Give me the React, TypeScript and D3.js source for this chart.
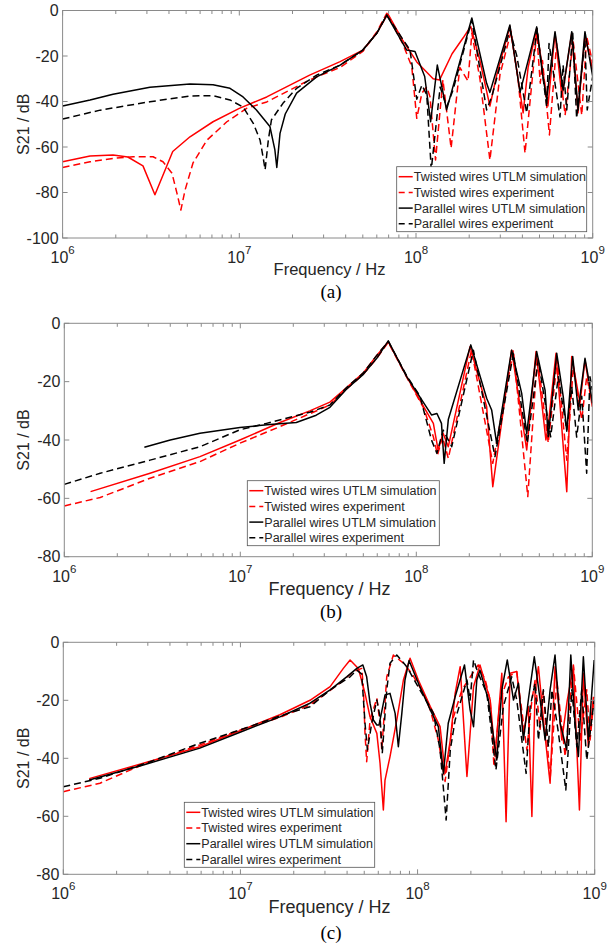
import * as d3 from "d3";
import { useEffect, useRef } from "react";

// frequency in MHz, S21 in dB

// (a)
const twistedSimA = [
  [1.0, -66.5], [1.43, -64], [1.93, -63.5], [2.34, -64.4], [2.85, -68.3], [3.33, -81], [4.2, -62],
  [5.26, -55.5], [7.1, -48.9], [10, -43], [14.3, -38], [25, -28.4], [37.2, -22.5], [50, -17.4],
  [60, -10], [69.3, -1.5], [84, -13], [101, -22.6], [125, -30], [136, -30.5], [160, -19], [185, -12],
  [204, -7], [230, -22], [262, -42], [287, -28], [340, -7], [378, -30], [404, -45], [431, -25],
  [482, -8], [530, -30], [558, -42], [612, -10], [670, -38], [761, -10], [826, -45], [904, -11], [1000, -26],
];
const twistedExpA = [
  [1.0, -69], [1.43, -66.5], [1.93, -65], [2.5, -64.3], [3.25, -64.3], [3.7, -66.5], [4.16, -71.5],
  [4.44, -80.4], [4.67, -87.7], [4.93, -79], [5.47, -67], [6.56, -57], [8.5, -48.9], [11, -43],
  [14.3, -40.2], [25, -30.5], [37.2, -25], [50, -18], [60.1, -9.3], [68.3, -1.2], [84, -14.5],
  [94.6, -24.6], [98.7, -39.3], [101, -47.4], [108, -36.3], [115, -33.6], [120, -37.9], [129, -65.7],
  [142, -30.5], [158, -60.5], [177, -25], [197, -31], [207, -10], [230, -30], [262, -65.7], [299, -28],
  [345, -9.3], [378, -30], [414, -62.7], [482, -10], [505, -32], [520, -22], [569, -54.7], [625, -14.5],
  [698, -46], [774, -13], [867, -46], [925, -11.5], [1000, -23],
];
const parallelSimA = [
  [1.0, -42], [1.43, -39.3], [1.93, -36.8], [3.12, -33.7], [5.26, -32.3], [7.1, -32.6], [8.86, -34.2],
  [10.5, -38], [12.5, -43.7], [14.9, -51], [15.9, -61.3], [16.3, -69], [17.0, -54], [18.2, -45.5],
  [21.1, -36.3], [27.4, -29.2], [37.2, -24], [50, -17.4], [60, -10], [68.3, -2], [88.6, -17.4],
  [98.7, -18], [112, -29], [121, -48.9], [132, -24], [149, -43.7], [207, -3.3], [251, -32], [262, -36],
  [340, -6.4], [388, -36], [482, -7.2], [520, -28], [549, -39], [612, -9.3], [680, -35], [761, -9.3],
  [826, -43.7], [904, -9.3], [1000, -29],
];
const parallelExpA = [
  [1.0, -47.7], [1.63, -43.8], [3.12, -40.1], [5.26, -37.6], [7.1, -37.4], [8.86, -39.3], [10.5, -42.4],
  [12.0, -49.6], [13.1, -56.9], [13.6, -64], [14.0, -70], [14.6, -56.9], [15.2, -48.1], [17.7, -40.7],
  [21.1, -34.2], [27.4, -28.4], [37.2, -24], [50, -17.4], [60, -10], [68.3, -2], [92.5, -17.4],
  [101, -39], [108, -32.8], [115, -37], [122, -70], [137, -33.6], [149, -42.4], [162, -35], [207, -4.2],
  [251, -43.7], [268, -38], [340, -8.6], [372, -20], [423, -45], [484, -7.9], [549, -42.4], [566, -14.5],
  [653, -46.8], [680, -24], [713, -43.7], [771, -10], [811, -47.4], [904, -13], [931, -43.7], [1000, -29],
];

// (b)
const twistedSimB = [
  [1.41, -57.7], [3.07, -51.4], [5.9, -45.7], [9.95, -40], [16.8, -34], [24.8, -30], [32.3, -27],
  [40.2, -22], [50, -17], [59.6, -11], [69.3, -6.3], [88.2, -18.3], [110, -28.6], [125, -34.3],
  [133, -43.4], [142, -37.7], [152, -42.3], [202, -8], [251, -28.6], [272, -56], [348, -9.2],
  [424, -43.4], [479, -9.7], [545, -40], [562, -35], [622, -10.3], [716, -57.7], [764, -11.4],
  [851, -27.4], [909, -12.6], [1000, -28.6],
];
const twistedExpB = [
  [1.0, -62.6], [1.6, -59.7], [3.07, -53.1], [5.9, -47.4], [9.95, -41.1], [16.8, -35.4], [24.8, -31],
  [32.3, -28], [40.2, -22.5], [50, -17.5], [59.6, -12], [69.3, -6.5], [88.2, -18.5], [110, -29],
  [125, -38.9], [132, -45.1], [141, -38.9], [152, -46.3], [206, -9.2], [272, -48], [356, -9.2],
  [430, -59.4], [487, -11.4], [562, -41], [632, -12.6], [716, -46.9], [780, -14.9], [871, -33.1],
  [929, -18.3], [1000, -27.4],
];
const parallelSimB = [
  [2.85, -42.5], [4.0, -40], [5.9, -37.7], [9.95, -35.7], [14.7, -34.7], [20.8, -34], [27, -31.5],
  [32.3, -28.8], [40.2, -22.5], [50, -17.5], [59.6, -12], [69.3, -6], [88.2, -18.3], [122, -31.4],
  [131, -30.9], [139, -34.3], [144, -48], [152, -33], [204, -7.4], [251, -25.7], [268, -29.7],
  [286, -41.1], [348, -9.2], [397, -24], [424, -37.7], [483, -9.7], [539, -22.9], [562, -38.9],
  [628, -10.3], [684, -25.2], [716, -37], [774, -11.4], [832, -29.7], [909, -12], [970, -21.7],
  [1000, -27.4],
];
const parallelExpB = [
  [1.0, -55.2], [1.6, -51.4], [3.07, -46.9], [5.9, -42.3], [9.95, -36.5], [14.1, -34.3], [24.8, -30.5],
  [32.3, -28], [40.2, -22], [50, -17], [59.6, -11], [69.3, -6.2], [88.2, -18], [105, -25], [122, -40],
  [131, -44.6], [142, -36.6], [159, -42.3], [211, -9.2], [280, -45.7], [356, -10.3], [427, -41.1],
  [493, -12.6], [580, -38.9], [641, -18.3], [716, -36.6], [764, -21.7], [815, -39], [871, -25],
  [929, -51.4], [970, -18.3], [1000, -22.9],
];

// (c)
const twistedSimC = [
  [1.4, -47], [2.83, -41.7], [5.9, -36], [9.95, -30.5], [16.7, -25], [24.7, -20], [32.1, -15.3],
  [38.1, -9], [41.6, -6.1], [46.3, -9], [50.5, -17.6], [53.9, -25.7], [58.9, -31.4], [61.4, -41.7],
  [64.1, -57.8], [65.5, -47.5], [69.9, -39.4], [76.3, -26.8], [83.2, -13], [90.7, -5.5], [101, -13],
  [118, -22.2], [134, -29.1], [143, -45.2], [153, -33.7], [163, -17.6], [174, -8.4], [190, -46.3],
  [207, -15.3], [225, -7.8], [257, -19.9], [274, -39.4], [299, -10.7], [316, -61.9], [333, -10.7],
  [363, -10.1], [396, -31.4], [422, -22.2], [442, -60.1], [461, -16.4], [481, -8.4], [520, -30],
  [560, -48.6], [597, -8.4], [652, -33.7], [700, -20], [758, -8.4], [820, -57.8], [863, -10.7],
  [921, -36], [984, -18.8],
];
const twistedExpC = [
  [1.0, -51.5], [1.61, -48.6], [2.83, -42.1], [5.9, -35.4], [9.95, -30.2], [16.7, -25.9], [24.7, -21.6],
  [36.5, -14.1], [43.4, -10.1], [48.4, -9], [49.4, -15.3], [50.5, -31.4], [51.6, -41.2], [53.9, -26.8],
  [58.9, -19.3], [61.4, -27.9], [62.8, -37.1], [67, -11.9], [73, -4.4], [83.2, -7.2], [92.7, -10.7],
  [108, -17.6], [118, -23.3], [131, -33.7], [143, -48], [151, -37.1], [159, -26], [178, -16.4],
  [198, -12], [220, -7.8], [241, -13], [257, -20], [270, -42.9], [292, -20], [326, -11.9], [363, -10.1],
  [414, -37.1], [442, -20], [461, -13], [492, -30], [513, -17], [560, -47.5], [611, -13], [681, -39.4],
  [758, -7.8], [828, -33.7], [902, -16.4], [942, -33.7], [993, -18.8],
];
const parallelSimC = [
  [1.4, -47.5], [2.83, -42.3], [5.9, -36.5], [9.95, -31], [16.7, -25.7], [24.7, -21], [32.1, -16.4],
  [39.8, -11.9], [45.4, -9], [49.1, -7.8], [51.6, -11.9], [53.9, -21], [56.3, -26.8], [58.9, -28.5],
  [60.6, -28.5], [65.5, -18.2], [69.9, -17.6], [74.7, -24.5], [77.9, -36], [81.5, -24.5], [84.9, -13],
  [89.5, -6.3], [103, -15.3], [118, -23.3], [131, -29.1], [140, -45.2], [149, -27.9], [163, -18.8],
  [184, -7.8], [198, -23.3], [207, -29.1], [216, -13], [225, -9.6], [251, -19.9], [280, -40.6],
  [299, -16.4], [321, -6.1], [348, -19.9], [371, -14.1], [396, -33.7], [422, -19.9], [456, -5],
  [492, -19.9], [525, -33.7], [560, -16.4], [597, -4.4], [638, -27.9], [695, -37.1], [733, -4.4],
  [774, -27.9], [809, -39.4], [863, -5], [921, -33.7], [993, -6.1],
];
const parallelExpC = [
  [1.0, -49.8], [1.61, -46.9], [3.09, -41.2], [5.9, -34.8], [9.95, -30.2], [16.7, -25.4], [24.7, -22.2],
  [32.1, -16.4], [41.6, -11.9], [45.4, -9.6], [48.4, -11], [50.5, -27.9], [52.1, -37.1], [55.1, -27.9],
  [58.9, -19.9], [61.4, -25.7], [63.2, -38.3], [67, -16.4], [69.9, -7.2], [76.3, -4.4], [86.9, -8.4],
  [103, -16.4], [118, -22.5], [123, -24.5], [134, -37.1], [145, -61.3], [153, -37.1], [163, -26.8],
  [190, -13], [198, -19.9], [207, -6.1], [220, -10.7], [246, -17.6], [277, -44], [305, -22.2],
  [340, -11.9], [363, -19.9], [410, -45.2], [432, -22.2], [461, -14.1], [481, -33.7], [513, -16.4],
  [548, -36], [573, -16.4], [620, -30], [687, -50.9], [743, -16.4], [793, -36], [845, -16.4],
  [902, -40.6], [993, -19.9],
];

const seriesNames = [
  "Twisted wires UTLM simulation",
  "Twisted wires experiment",
  "Parallel wires UTLM simulation",
  "Parallel wires experiment",
];
const seriesColors = ["#ff0000", "#ff0000", "#000000", "#000000"];
const seriesDashed = [false, true, false, true];

const yTicksA = [0, -20, -40, -60, -80, -100];
const yTicksBC = [0, -20, -40, -60, -80];
const xMajor = [1e6, 1e7, 1e8, 1e9];

const panels = [
  {
    id: "a", caption: "(a)", left: 62.6, right: 592.7, top: 10.5, bottom: 238, yMin: -100, yTicks: yTicksA,
    series: [twistedSimA, twistedExpA, parallelSimA, parallelExpA],
    legendX: 396.7, legendY: 166.7, legendW: 190, labelY: 275, labelSize: 16.5, captionY: 298,
  },
  {
    id: "b", caption: "(b)", left: 64.3, right: 592.3, top: 323.3, bottom: 556.7, yMin: -80, yTicks: yTicksBC,
    series: [twistedSimB, twistedExpB, parallelSimB, parallelExpB],
    legendX: 247.3, legendY: 480.7, legendW: 192, labelY: 595, labelSize: 18, captionY: 618,
  },
  {
    id: "c", caption: "(c)", left: 63.3, right: 594.7, top: 642.3, bottom: 874.3, yMin: -80, yTicks: yTicksBC,
    series: [twistedSimC, twistedExpC, parallelSimC, parallelExpC],
    legendX: 184.3, legendY: 802.3, legendW: 190.4, labelY: 913, labelSize: 18, captionY: 939,
  },
];

const sans = "'Liberation Sans', Arial, Helvetica, sans-serif";
const axisColor = "#8a8a8a";
const textColor = "#262626";

const drawPanel = (svg, p) => {
  const x = d3.scaleLog().domain([1e6, 1e9]).range([p.left, p.right]);
  const y = d3.scaleLinear().domain([p.yMin, 0]).range([p.bottom, p.top]);
  const g = svg.append("g");

  const clipId = "clip-" + p.id;
  g.append("clipPath").attr("id", clipId)
    .append("rect")
    .attr("x", p.left).attr("y", p.top)
    .attr("width", p.right - p.left).attr("height", p.bottom - p.top);

  // curves
  const line = d3.line<number[]>()
    .x(d => x(d[0] * 1e6))
    .y(d => y(d[1]));
  p.series.forEach((s, i) => {
    g.append("path")
      .attr("d", line(s))
      .attr("fill", "none")
      .attr("stroke", seriesColors[i])
      .attr("stroke-width", 1.5)
      .attr("stroke-linejoin", "round")
      .attr("stroke-dasharray", seriesDashed[i] ? "7,4" : null)
      .attr("clip-path", `url(#${clipId})`);
  });

  // box
  g.append("rect")
    .attr("x", p.left).attr("y", p.top)
    .attr("width", p.right - p.left).attr("height", p.bottom - p.top)
    .attr("fill", "none").attr("stroke", axisColor).attr("stroke-width", 1);

  // x ticks (major + minor from the log scale)
  const allTicks = x.ticks();
  allTicks.forEach((t) => {
    const major = xMajor.some(m => Math.abs(m - t) / m < 1e-6);
    const len = major ? 5 : 3.5;
    const px = x(t);
    g.append("line").attr("x1", px).attr("x2", px).attr("y1", p.bottom).attr("y2", p.bottom - len)
      .attr("stroke", axisColor);
    g.append("line").attr("x1", px).attr("x2", px).attr("y1", p.top).attr("y2", p.top + len)
      .attr("stroke", axisColor);
  });

  xMajor.forEach((t) => {
    const txt = g.append("text")
      .attr("x", x(t))
      .attr("y", p.bottom + 25)
      .attr("text-anchor", "middle")
      .attr("font-family", sans)
      .attr("font-size", 16)
      .attr("fill", textColor);
    txt.append("tspan").text("10");
    txt.append("tspan").attr("dy", -9).attr("font-size", 11.5).text(String(Math.round(Math.log10(t))));
  });

  // y ticks
  p.yTicks.forEach((t) => {
    const py = y(t);
    g.append("line").attr("x1", p.left).attr("x2", p.left + 5).attr("y1", py).attr("y2", py).attr("stroke", axisColor);
    g.append("line").attr("x1", p.right).attr("x2", p.right - 5).attr("y1", py).attr("y2", py).attr("stroke", axisColor);
    g.append("text")
      .attr("x", p.left - 4)
      .attr("y", py + 5.5)
      .attr("text-anchor", "end")
      .attr("font-family", sans)
      .attr("font-size", 16)
      .attr("fill", textColor)
      .text(String(t));
  });

  // axis labels
  const midY = (p.top + p.bottom) / 2;
  g.append("text")
    .attr("transform", `translate(29,${midY}) rotate(-90)`)
    .attr("text-anchor", "middle")
    .attr("font-family", sans)
    .attr("font-size", 16)
    .attr("fill", textColor)
    .text("S21 / dB");

  g.append("text")
    .attr("x", 329.5)
    .attr("y", p.labelY)
    .attr("text-anchor", "middle")
    .attr("font-family", sans)
    .attr("font-size", p.labelSize)
    .attr("fill", textColor)
    .text("Frequency / Hz");

  g.append("text")
    .attr("x", 331)
    .attr("y", p.captionY)
    .attr("text-anchor", "middle")
    .attr("font-family", "'Liberation Serif', 'Times New Roman', serif")
    .attr("font-size", 19)
    .attr("fill", "#000")
    .text(p.caption);

  // legend
  const lg = g.append("g").attr("transform", `translate(${p.legendX},${p.legendY})`);
  lg.append("rect")
    .attr("width", p.legendW).attr("height", 65)
    .attr("fill", "#fff").attr("stroke", "#555").attr("stroke-width", 0.8);
  seriesNames.forEach((name, i) => {
    const ry = 10 + i * 15.7;
    lg.append("line")
      .attr("x1", 2).attr("x2", 16).attr("y1", ry).attr("y2", ry)
      .attr("stroke", seriesColors[i]).attr("stroke-width", 1.5)
      .attr("stroke-dasharray", seriesDashed[i] ? "6,4" : null);
    lg.append("text")
      .attr("x", 17).attr("y", ry + 4.5)
      .attr("font-family", sans)
      .attr("font-size", 12.5)
      .attr("fill", textColor)
      .text(name);
  });
};

const App = () => {
  const ref = useRef<SVGSVGElement>(null);

  useEffect(() => {
    const svg = d3.select(ref.current);
    svg.selectAll("*").remove();
    panels.forEach(p => drawPanel(svg, p));
  }, []);

  return (
    <svg
      ref={ref}
      width={613}
      height={949}
      style={{ position: "absolute", left: 0, top: 0, background: "#fff" }}
    />
  );
};

export default App;
